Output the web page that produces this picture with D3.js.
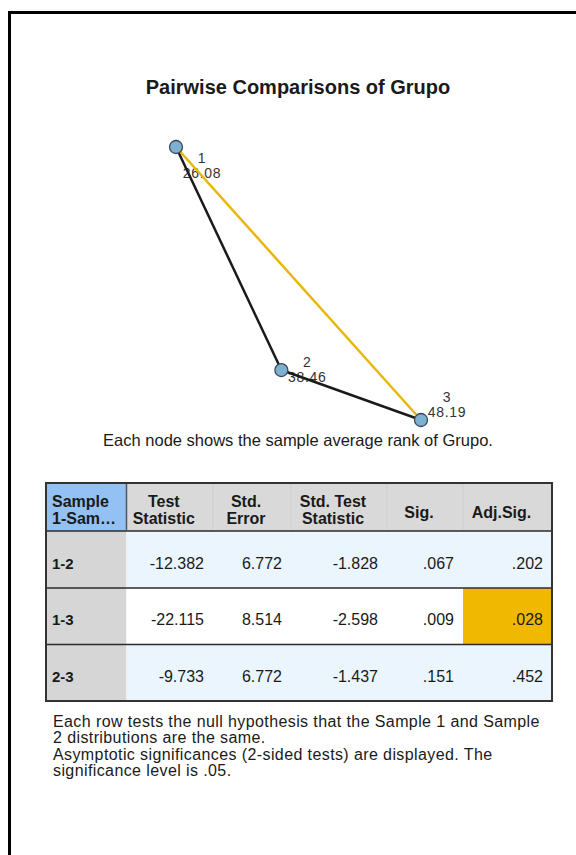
<!DOCTYPE html>
<html>
<head>
<meta charset="utf-8">
<script src="https://cdn.jsdelivr.net/npm/d3@7/dist/d3.min.js"></script>
<style>
  body { margin: 0; background: #fff; }
  svg { display: block; font-family: "Liberation Sans", Arial, sans-serif; }
</style>
</head>
<body>
<div id="chart"></div>
<script>
/*global d3*/

// node data
var groups = ["1", "2", "3"];
var avgRanks = [26.08, 38.46, 48.19];
// network layout coordinates (0..1 units)
var layoutX = [0, 0.43, 1];
var layoutY = [0, 0.817, 1];

// pairwise comparisons
var pairs = ["1-2", "1-3", "2-3"];
var pairFrom = [0, 0, 1];
var pairTo = [1, 2, 2];
var testStat = ["-12.382", "-22.115", "-9.733"];
var stdError = ["6.772", "8.514", "6.772"];
var stdTestStat = ["-1.828", "-2.598", "-1.437"];
var sig = [".067", ".009", ".151"];
var adjSig = [".202", ".028", ".452"];

var headers = [["Sample", "1-Sam\u2026"], ["Test", "Statistic"], ["Std.", "Error"],
  ["Std. Test", "Statistic"], ["Sig."], ["Adj.Sig."]];

var footnotes = [
  "Each row tests the null hypothesis that the Sample 1 and Sample",
  "2 distributions are the same.",
  "Asymptotic significances (2-sided tests) are displayed. The",
  "significance level is .05."
];

var width = 576, height = 855;
var alpha = 0.05;

var svg = d3.select("#chart").append("svg")
  .attr("width", width)
  .attr("height", height);

// frame (open on right and bottom)
svg.append("path")
  .attr("d", "M9.5," + height + "V12.5H" + width)
  .style("fill", "none")
  .style("stroke", "#000")
  .style("stroke-width", 3);

svg.append("text")
  .attr("x", 298).attr("y", 94)
  .attr("text-anchor", "middle")
  .style("font-size", "20px")
  .style("font-weight", "bold")
  .style("fill", "#1a1a1a")
  .text("Pairwise Comparisons of Grupo");

// ---- network ----
var x = d3.scaleLinear().domain([0, 1]).range([176, 421]);
var y = d3.scaleLinear().domain([0, 1]).range([147, 420]);

var nodes = groups.map(function(g, i) {
  return {name: g, rank: avgRanks[i], x: x(layoutX[i]), y: y(layoutY[i])};
});
var labelDy = [15.5, -3.5, -18.5]; // baseline of first label line relative to node

var net = svg.append("g");

// one text per node, two stacked lines
net.selectAll("text.lab")
  .data(nodes)
  .enter()
  .append("text")
  .attr("class", "lab")
  .attr("text-anchor", "middle")
  .style("font-size", "14px")
  .style("letter-spacing", "0.7px")
  .style("fill", "#333")
  .each(function(d, i) {
    var t = d3.select(this);
    var lx = d.x + 26;
    t.append("tspan").attr("x", lx).attr("y", d.y + labelDy[i]).text(d.name);
    t.append("tspan").attr("x", lx).attr("y", d.y + labelDy[i] + 15.6)
      .text(d3.format(".2f")(d.rank));
  });

var edges = pairs.map(function(p, i) {
  return {source: nodes[pairFrom[i]], target: nodes[pairTo[i]], adj: +adjSig[i]};
});

net.selectAll("line")
  .data(edges)
  .enter()
  .append("line")
  .attr("x1", function(d) { return d.source.x; })
  .attr("y1", function(d) { return d.source.y; })
  .attr("x2", function(d) { return d.target.x; })
  .attr("y2", function(d) { return d.target.y; })
  .style("stroke", function(d) { return d.adj < alpha ? "#e8b70a" : "#1a1a1a"; })
  .style("stroke-width", 2.5);

net.selectAll("circle")
  .data(nodes)
  .enter()
  .append("circle")
  .attr("cx", function(d) { return d.x; })
  .attr("cy", function(d) { return d.y; })
  .attr("r", 6.5)
  .style("fill", "#7fb0cf")
  .style("stroke", "#3a4a55")
  .style("stroke-width", 1.3);

svg.append("text")
  .attr("x", 298).attr("y", 446)
  .attr("text-anchor", "middle")
  .style("font-size", "16.5px")
  .style("fill", "#1a1a1a")
  .text("Each node shows the sample average rank of Grupo.");

// ---- table ----
var colEdges = [46, 126.5, 213, 291, 387, 463, 552];
var rowEdges = [483, 531, 588, 644.5, 701];

var rows = pairs.map(function(p, i) {
  return [p, testStat[i], stdError[i], stdTestStat[i], sig[i], adjSig[i]];
});

var tbl = svg.append("g");

// header cells
tbl.selectAll("rect.head")
  .data(headers)
  .enter()
  .append("rect")
  .attr("class", "head")
  .attr("x", function(d, j) { return colEdges[j]; })
  .attr("y", rowEdges[0])
  .attr("width", function(d, j) { return colEdges[j + 1] - colEdges[j]; })
  .attr("height", rowEdges[1] - rowEdges[0])
  .style("fill", function(d, j) { return j === 0 ? "#93c1f3" : "#d9d9d9"; })
  .style("stroke", function(d, j) { return j === 0 ? "none" : "#cfcfcf"; })
  .style("stroke-width", 1);

tbl.selectAll("text.head")
  .data(headers)
  .enter()
  .append("text")
  .attr("class", "head")
  .attr("x", function(d, j) {
    return j === 0 ? colEdges[0] + 6 : (colEdges[j] + colEdges[j + 1]) / 2 - 6;
  })
  .attr("y", function(d) { return d.length === 1 ? 518 : 507; })
  .attr("text-anchor", function(d, j) { return j === 0 ? "start" : "middle"; })
  .style("font-size", "16px")
  .style("font-weight", "bold")
  .style("fill", "#1a1a1a")
  .each(function(d) {
    var t = d3.select(this);
    d.forEach(function(line, k) {
      t.append("tspan")
        .attr("x", t.attr("x"))
        .attr("dy", k === 0 ? 0 : 17)
        .text(line);
    });
  });

// body rows
var rowG = tbl.selectAll("g.row")
  .data(rows)
  .enter()
  .append("g")
  .attr("class", "row");

rowG.selectAll("rect")
  .data(function(d, i) { return d.map(function(v, j) { return {v: v, i: i, j: j}; }); })
  .enter()
  .append("rect")
  .attr("x", function(d) { return colEdges[d.j]; })
  .attr("y", function(d) { return rowEdges[d.i + 1]; })
  .attr("width", function(d) { return colEdges[d.j + 1] - colEdges[d.j]; })
  .attr("height", function(d) { return rowEdges[d.i + 2] - rowEdges[d.i + 1]; })
  .style("fill", function(d) {
    if (d.j === 0) return "#d6d6d6";
    if (d.j === 5 && +d.v < alpha) return "#f0b800";
    return d.i === 1 ? "#ffffff" : "#ebf5fd";
  });

rowG.selectAll("text")
  .data(function(d, i) { return d.map(function(v, j) { return {v: v, i: i, j: j}; }); })
  .enter()
  .append("text")
  .attr("x", function(d) { return d.j === 0 ? colEdges[0] + 6 : colEdges[d.j + 1] - 9; })
  .attr("y", function(d) { return (rowEdges[d.i + 1] + rowEdges[d.i + 2]) / 2 + 9; })
  .attr("text-anchor", function(d) { return d.j === 0 ? "start" : "end"; })
  .style("font-size", function(d) { return d.j === 0 ? "15px" : "16px"; })
  .style("font-weight", function(d) { return d.j === 0 ? "bold" : "normal"; })
  .style("fill", "#1a1a1a")
  .text(function(d) { return d.v; });

// row separators
tbl.selectAll("line.sep")
  .data(rowEdges.slice(1, -1))
  .enter()
  .append("line")
  .attr("class", "sep")
  .attr("x1", colEdges[0]).attr("x2", colEdges[6])
  .attr("y1", function(d) { return d; })
  .attr("y2", function(d) { return d; })
  .style("stroke", "#2b2b2b")
  .style("stroke-width", 1.5);

// line between header first column and others
tbl.append("line")
  .attr("x1", colEdges[1]).attr("x2", colEdges[1])
  .attr("y1", rowEdges[0]).attr("y2", rowEdges[1])
  .style("stroke", "#555")
  .style("stroke-width", 1.5);

tbl.append("rect")
  .attr("x", colEdges[0]).attr("y", rowEdges[0])
  .attr("width", colEdges[6] - colEdges[0])
  .attr("height", rowEdges[4] - rowEdges[0])
  .style("fill", "none")
  .style("stroke", "#333")
  .style("stroke-width", 2);

// footnotes (tight line spacing as in the original)
svg.append("g").selectAll("text")
  .data(footnotes)
  .enter()
  .append("text")
  .attr("x", 53)
  .attr("y", function(d, i) { return 727 + i * 16.3; })
  .style("font-size", "16px")
  .style("letter-spacing", "0.4px")
  .style("fill", "#1a1a1a")
  .text(function(d) { return d; });
</script>
</body>
</html>
